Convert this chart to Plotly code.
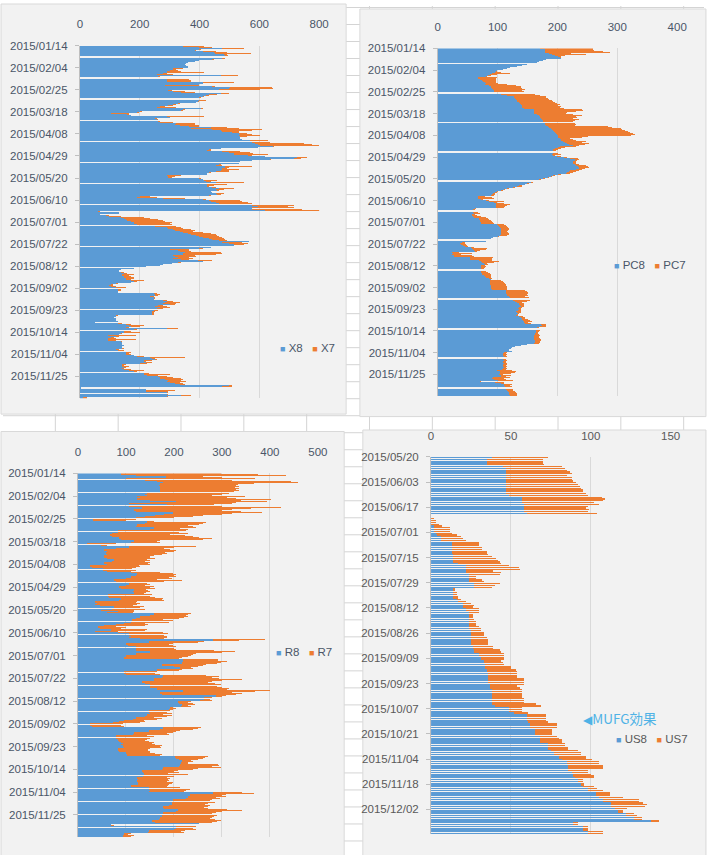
import plotly.graph_objects as go
import pandas as pd

W, H = 714, 855

# ---------------- data ----------------
X8 = [346,399,475,399,383,410,448,453,481,486,
      486,475,443,399,383,361,355,350,355,361,
      361,312,312,301,290,290,279,257,470,262,
      246,290,290,290,410,410,399,284,443,503,
      497,465,295,312,339,470,432,421,410,399,
      393,399,393,388,328,312,295,268,257,404,
      344,339,202,191,104,158,169,290,301,251,
      257,262,268,322,317,333,366,437,372,443,
      470,475,508,530,536,530,536,536,536,541,
      568,574,585,596,601,645,596,470,432,426,
      475,497,514,514,563,618,727,716,634,574,
      536,530,465,454,486,486,475,475,470,454,
      432,426,426,290,295,295,399,410,415,421,
      454,426,426,426,443,465,454,459,437,443,
      454,459,432,202,191,279,410,432,437,454,
      465,574,596,574,574,574,618,60,131,131,
      66,88,98,137,148,153,158,169,180,180,
      191,251,290,295,312,317,333,344,361,372,
      388,399,410,432,443,465,565,475,497,514,
      514,437,399,301,328,333,350,344,344,312,
      317,328,312,339,393,410,328,306,279,268,
      219,180,137,131,131,137,148,142,142,148,
      148,153,153,169,180,169,120,104,98,104,
      120,126,126,126,126,246,251,251,235,246,
      246,246,279,290,284,279,301,262,251,268,
      257,246,240,240,240,240,120,120,115,120,
      120,120,126,51,126,153,164,169,153,290,
      180,148,148,137,131,93,120,104,93,93,
      93,137,142,142,142,148,142,142,142,120,
      126,153,153,153,180,191,235,240,251,213,
      213,219,202,142,142,142,148,142,148,164,
      180,213,213,224,262,268,268,284,295,290,
      301,317,333,497,476,3,3,219,219,219,
      290,290,339,290,10,10]
X7 = [69,44,72,5,5,44,44,118,11,9,
      11,11,5,0,0,0,0,0,0,0,
      0,32,10,27,49,125,11,55,57,6,
      16,76,82,82,104,0,0,115,9,139,
      148,136,11,38,44,27,27,11,5,5,
      6,22,6,0,5,10,17,16,65,6,
      6,5,6,6,60,6,0,126,0,6,
      5,6,44,61,66,66,33,55,158,164,
      104,55,22,27,38,71,21,0,0,0,
      60,60,164,180,197,5,0,0,5,11,
      61,71,65,114,11,0,33,22,6,0,
      0,0,5,21,88,11,17,55,27,43,
      5,0,0,49,22,11,5,0,44,16,
      93,66,22,6,11,49,27,6,0,0,
      27,11,5,33,66,71,11,104,104,109,
      109,142,98,142,0,169,183,6,0,0,
      0,10,39,76,87,109,121,115,126,121,
      115,71,49,48,60,66,44,66,76,82,
      71,66,65,49,43,27,0,66,66,33,
      0,0,11,65,38,39,120,132,110,71,
      71,38,65,27,50,0,11,0,0,0,
      0,0,0,0,0,11,10,38,22,21,
      32,27,16,44,11,0,6,5,11,16,
      33,11,11,0,0,11,17,11,11,5,
      5,0,11,22,49,43,16,17,39,33,
      22,16,11,6,6,6,6,0,0,0,
      0,0,0,0,16,16,49,33,11,38,
      11,21,54,5,0,93,11,11,27,93,
      27,5,0,0,0,0,0,0,6,11,
      22,16,11,16,0,22,115,11,6,27,
      6,21,22,11,6,22,5,6,21,49,
      11,17,88,38,28,44,71,60,44,65,
      32,27,17,11,32,0,0,0,98,76,
      5,5,33,5,12,12]

PC8 = [170,179,179,179,179,185,190,195,200,203,
       206,181,175,168,165,149,140,132,120,116,
       108,99,97,96,90,86,83,80,67,67,
       70,73,75,78,80,78,85,88,89,90,
       91,93,93,97,105,115,127,127,128,130,
       132,132,135,137,138,140,140,140,143,160,
       160,160,160,160,165,168,170,170,172,173,
       175,176,178,179,180,183,185,188,190,192,
       194,196,197,198,200,201,201,203,205,206,
       208,212,215,218,225,203,200,195,192,192,
       191,192,191,192,198,210,220,228,228,226,
       225,226,228,230,233,236,235,230,220,218,
       215,214,200,192,188,183,176,168,160,155,
       149,145,135,132,125,116,110,105,99,95,
       92,90,89,67,67,67,72,80,85,94,
       97,97,97,97,97,61,58,56,58,60,
       56,57,58,60,68,69,70,70,71,72,
       99,100,102,104,105,105,105,105,105,105,
       105,104,100,92,89,89,80,40,36,38,
       42,45,55,56,58,60,61,23,25,23,
       26,27,53,53,54,69,72,74,76,78,
       72,72,72,72,72,71,72,73,74,76,
       78,80,85,89,86,86,87,87,87,88,
       88,89,89,90,113,113,114,114,115,116,
       119,120,124,126,128,132,135,136,137,138,
       136,134,135,133,130,132,134,132,131,136,
       138,140,141,142,143,143,145,172,173,170,
       166,165,164,164,163,162,162,161,160,161,
       160,160,162,162,162,160,148,138,128,124,
       122,119,119,124,110,108,109,108,110,108,
       108,110,109,108,110,108,108,109,110,108,
       107,99,104,104,103,102,105,106,92,90,
       94,100,70,96,106,110,111,112,114,114,
       116,117,118,118,119,121]
PC7 = [88,79,82,96,109,37,57,17,6,3,
       0,0,0,0,0,0,0,0,0,0,
       0,0,2,10,31,13,5,2,32,30,
       27,24,22,19,20,38,45,50,49,50,
       55,47,50,52,57,55,54,54,55,56,
       58,60,60,61,65,60,66,64,68,80,
       82,70,56,54,60,72,60,62,53,63,
       53,49,50,51,48,101,105,117,117,120,
       124,124,128,131,122,49,39,17,20,24,
       39,28,37,27,11,27,12,10,8,5,
       4,8,14,3,7,5,13,8,4,4,
       5,4,8,17,17,16,10,10,16,12,
       10,6,5,4,2,2,2,4,2,3,
       3,0,5,8,3,2,2,3,1,3,
       4,5,5,11,23,27,3,5,25,5,
       13,24,18,15,13,3,4,4,8,10,
       5,8,14,20,15,16,18,20,21,22,
       11,13,13,13,13,14,12,11,12,14,
       13,12,2,0,0,0,0,5,9,9,
       6,5,5,26,22,10,4,12,31,15,
       30,33,38,37,36,21,30,20,6,6,
       6,8,6,4,4,9,12,13,14,13,
       11,9,5,0,19,22,23,25,26,26,
       27,27,27,26,32,36,36,37,34,34,
       27,32,26,28,20,8,8,7,6,5,
       4,4,3,5,8,6,2,2,3,6,
       7,6,10,11,14,7,10,9,8,10,
       2,3,6,4,4,5,6,9,8,7,
       10,12,10,8,8,8,0,0,0,0,
       0,0,0,0,5,5,6,6,5,6,
       5,6,5,5,6,7,5,7,4,8,
       6,24,26,24,19,6,17,8,28,20,
       20,25,2,14,4,14,9,12,8,11,
       9,11,12,14,13,11]

R8 = [89,89,120,183,183,100,140,165,178,170,
      170,168,170,171,170,171,171,171,144,140,
      144,124,130,124,124,150,205,150,106,185,
      106,134,134,117,117,120,199,199,180,160,
      140,120,31,31,144,144,140,124,124,120,
      158,158,150,83,83,70,66,66,70,86,
      86,90,117,117,110,18,48,106,106,80,
      55,55,60,59,59,60,55,55,60,76,
      76,70,55,55,60,25,25,30,52,52,
      60,110,124,124,120,110,110,100,76,76,
      80,106,106,100,86,86,90,117,117,115,
      117,117,62,62,65,89,89,85,35,35,
      40,35,45,76,76,70,48,83,60,158,
      158,150,130,130,120,113,113,110,96,80,
      55,42,42,45,69,69,35,83,106,106,
      110,106,130,281,281,147,147,100,100,105,
      120,120,120,120,151,151,120,120,100,100,
      96,96,219,219,216,216,175,175,200,212,
      212,164,164,96,96,100,178,178,175,158,
      158,158,134,134,140,151,151,150,164,164,
      219,219,171,171,175,287,287,263,263,255,
      209,209,210,216,216,215,192,192,190,147,
      147,150,144,144,140,120,120,115,96,85,
      72,25,25,30,178,178,170,147,147,117,
      117,115,79,79,80,83,83,85,89,93,
      90,93,93,95,83,83,85,100,100,103,
      103,202,202,205,210,216,216,214,212,212,
      210,178,178,175,134,134,136,137,137,135,
      124,124,125,124,122,126,126,125,110,110,
      147,147,150,147,281,281,233,233,229,229,
      225,199,199,195,195,195,190,178,178,180,
      209,209,205,178,178,175,175,171,171,168,
      154,154,160,253,69,69,205,205,200,147,
      147,145,96,96,93,93]
R7 = [209,287,314,77,117,270,180,279,280,196,
      163,162,165,157,166,159,164,154,171,160,
      136,225,180,206,279,190,188,180,215,99,
      194,290,226,204,183,220,184,121,120,100,
      100,80,89,69,14,123,120,129,106,120,
      88,54,80,143,127,160,126,157,170,167,
      194,170,54,48,60,61,12,140,94,100,
      137,150,140,123,126,115,103,95,100,68,
      74,70,96,90,90,102,105,90,61,68,
      50,60,75,81,80,95,80,95,89,140,
      100,38,44,40,72,64,70,24,28,35,
      24,21,92,88,95,89,86,95,89,85,
      90,89,70,61,54,70,69,34,55,78,
      72,75,99,90,90,65,86,80,44,65,
      85,37,58,45,75,71,48,95,82,74,
      75,79,50,109,54,116,103,99,90,94,
      85,80,85,164,177,149,126,120,136,130,
      120,114,72,92,82,74,92,85,50,24,
      28,52,46,68,64,70,89,116,105,136,
      184,142,146,136,145,147,139,150,151,146,
      181,151,150,171,155,21,13,17,12,25,
      27,21,30,27,13,20,7,13,9,45,
      38,45,34,51,45,38,55,50,41,55,
      58,68,65,65,79,72,70,65,58,82,
      68,75,65,79,70,61,57,63,69,62,
      70,82,77,77,68,62,65,51,60,72,
      67,68,63,55,40,20,24,16,79,82,
      70,120,72,65,75,66,74,51,92,65,
      61,68,63,66,63,73,69,65,78,75,
      65,86,75,73,61,85,75,67,79,58,
      70,81,76,90,75,70,85,92,84,90,
      102,133,95,109,102,115,108,109,104,117,
      144,136,120,0,0,6,41,35,46,76,
      68,75,14,9,24,17]

US8 = [38,35,35,35,35,45,47,47,47,47,
       47,47,47,47,47,47,47,47,47,47,
       47,49,57,57,57,57,58,58,58,58,
       58,60,None,None,0,0,0,0,2,2,
       2,2,3,4,6,6,6,13,13,13,
       13,13,13,13,14,14,14,14,14,17,
       22,22,22,22,22,24,24,24,24,24,
       27,27,27,14,14,14,14,14,14,16,
       17,20,20,20,22,22,24,24,24,24,
       24,24,24,24,24,24,25,25,25,25,
       25,25,25,25,25,26,26,27,27,30,
       30,31,31,33,33,34,34,34,35,35,
       36,36,36,36,36,36,37,37,37,38,
       38,38,38,38,38,38,38,38,40,49,
       49,49,52,60,60,60,60,61,62,62,
       62,65,65,65,65,68,68,68,68,73,
       73,73,73,75,77,77,80,80,82,85,
       85,86,86,86,86,88,89,89,90,92,
       92,94,94,95,98,98,103,103,103,105,
       108,108,113,113,113,115,117,117,122,122,
       127,127,138,89,89,95,95,95,98,98]
US7 = [35,35,35,35,36,37,37,38,40,41,
       38,41,41,42,44,45,46,47,48,48,
       50,49,50,52,51,45,47,40,39,41,
       40,44,None,None,2,3,3,5,5,10,
       10,10,10,12,13,14,16,17,17,17,
       19,19,22,22,22,24,27,28,29,27,
       27,33,34,17,22,19,4,4,8,9,
       16,13,11,1,1,2,2,3,3,3,
       5,5,7,6,8,8,6,2,2,2,
       3,4,4,4,6,7,6,8,8,8,
       10,11,11,11,11,13,13,16,17,16,
       16,15,15,11,12,12,16,16,18,19,
       18,18,18,22,22,22,21,17,19,19,
       19,19,19,19,20,20,20,28,29,8,
       8,8,9,12,12,12,12,12,17,17,
       17,11,11,11,11,11,12,14,14,11,
       11,13,13,17,17,17,17,17,19,20,
       20,22,22,22,12,10,11,13,12,3,
       3,2,2,7,6,10,9,9,9,15,
       22,22,20,22,21,8,3,3,5,7,
       5,5,5,3,3,3,3,3,10,10]

DATES_A = pd.date_range("2015-01-14", periods=len(X8), freq="D")
DATES_US = pd.date_range("2015-05-20", periods=len(US8), freq="D")

# ---------------- styling ----------------
BLUE = "rgba(91,155,213,0.999)"
ORANGE = "rgba(237,125,49,0.999)"
BLUE_HEX = "#5B9BD5"
ORANGE_HEX = "#ED7D31"
DAY = 86400000
FONT = "Liberation Sans, Arial, sans-serif"
LBL = "#4A5668"
LBL4 = "#595959"


def px(x):
    return x / W


def py(y):
    return 1 - y / H


fig = go.Figure()

panels = [
    ("", X8, X7, DATES_A, 0.94),
    ("2", PC8, PC7, DATES_A, 0.94),
    ("3", R8, R7, DATES_A, 0.94),
    ("4", US8, US7, DATES_US, 0.7),
]
for suf, s8, s7, dts, wfrac in panels:
    for vals, col in ((s8, BLUE), (s7, ORANGE)):
        fig.add_trace(go.Bar(
            x=vals, y=dts, orientation="h",
            xaxis="x" + suf, yaxis="y" + suf,
            width=DAY * wfrac, offset=0,
            marker=dict(color=col, line=dict(width=0)),
            showlegend=False, hoverinfo="x+y",
        ))

# panel geometry (pixels) : x0, x1 of value axis, y top, y bottom
geo = {
    "": dict(xd=(78.3, 322.0), yd=(40.0, 395.0), rng=800, dt=200,
             start="2015-01-14", step=21, col=LBL),
    "2": dict(xd=(442.7, 686.7), yd=(42.7, 392.7), rng=400, dt=100,
              start="2015-01-14", step=21, col=LBL),
    "3": dict(xd=(76.4, 320.7), yd=(470.7, 837.3), rng=500, dt=100,
              start="2015-01-14", step=21, col=LBL),
    "4": dict(xd=(436.0, 680.0), yd=(454.0, 834.0), rng=150, dt=50,
              start="2015-05-20", step=14, col=LBL4),
}

layout = dict(
    width=W, height=H, autosize=False,
    margin=dict(l=0, r=0, t=0, b=0),
    paper_bgcolor="white", plot_bgcolor="rgba(0,0,0,0)",
    barmode="stack", bargap=0, bargroupgap=0, showlegend=False,
    font=dict(family=FONT, size=11.5, color=LBL),
)
for suf, g in geo.items():
    layout["xaxis" + suf] = dict(
        domain=[px(g["xd"][0]), px(g["xd"][1])],
        range=[0, g["rng"]], dtick=g["dt"], tick0=0,
        side="top", anchor="y" + suf,
        showgrid=True, gridcolor="#D9D9D9", gridwidth=1,
        zeroline=False, showline=False, ticks="",
        tickfont=dict(family=FONT, size=11.5, color=g["col"]),
        ticklabelstandoff=14, fixedrange=True,
    )
    layout["yaxis" + suf] = dict(
        domain=[py(g["yd"][1]), py(g["yd"][0])],
        type="date", range=["2015-12-15 18:00", g["start"]],
        tick0=g["start"], dtick=DAY * g["step"], tickformat="%Y/%m/%d",
        anchor="x" + suf, showgrid=False, zeroline=False,
        showline=True, linecolor="#BFBFBF", linewidth=1,
        ticks="outside", ticklen=4, tickcolor="#BFBFBF",
        tickfont=dict(family=FONT, size=11.5, color=g["col"]),
        ticklabelstandoff=5, layer="below traces", fixedrange=True,
    )

# ---------------- spreadsheet background & chart areas ----------------
shapes = []
GRID = "#D4D4D4"
for k in range(11):
    x = 53.3 + 64 * k
    shapes.append(dict(type="line", xref="paper", yref="paper", layer="below",
                       x0=px(x), x1=px(x), y0=0, y1=1,
                       line=dict(color=GRID, width=1)))
for k in range(51):
    y = 1.5 + 17.13 * k
    shapes.append(dict(type="line", xref="paper", yref="paper", layer="below",
                       x0=0, x1=1, y0=py(y), y1=py(y),
                       line=dict(color=GRID, width=1)))
areas = [(-2, -2, 349.5, 411), (363.5, 3, 716, 413.5),
         (-2, 428.5, 347.5, 857), (366.5, 427, 716, 857)]
for x0, y0, x1, y1 in areas:
    shapes.append(dict(type="rect", xref="paper", yref="paper", layer="below",
                       x0=px(x0), x1=px(x1), y0=py(y1), y1=py(y0),
                       fillcolor="#F2F2F2", line=dict(color="#D9D9D9", width=1)))
layout["shapes"] = shapes

# ---------------- legends (as text) & note ----------------
NB = "\u00a0"


def legend_text(a, b):
    sq = "<span style='font-size:9px;color:{c}'>■</span>"
    return (sq.format(c=BLUE_HEX) + NB + a + NB * 3 +
            sq.format(c=ORANGE_HEX) + NB + b)


anns = []
for (x, y, a, b, col) in [(280, 344.5, "X8", "X7", LBL),
                          (620, 261, "PC8", "PC7", LBL),
                          (276, 651, "R8", "R7", LBL),
                          (622, 738.5, "US8", "US7", LBL4)]:
    anns.append(dict(xref="paper", yref="paper", x=px(x), y=py(y),
                     xanchor="left", yanchor="middle", showarrow=False,
                     text=legend_text(a, b),
                     font=dict(family=FONT, size=11.5, color=col)))
anns.append(dict(xref="paper", yref="paper", x=px(589), y=py(717),
                 xanchor="left", yanchor="middle", showarrow=False,
                 text="<span style='font-family:DejaVu Sans;font-size:12px'>◀</span>MUFG効果",
                 font=dict(family="Noto Sans CJK JP, sans-serif", size=13.5,
                           color="#4FB2E6")))
layout["annotations"] = anns

fig.update_layout(**layout)
fig.write_html(
    "out.html", config={"displayModeBar": False},
    post_script="document.body.style.margin='0';"
                "document.body.style.overflow='hidden';",
)
